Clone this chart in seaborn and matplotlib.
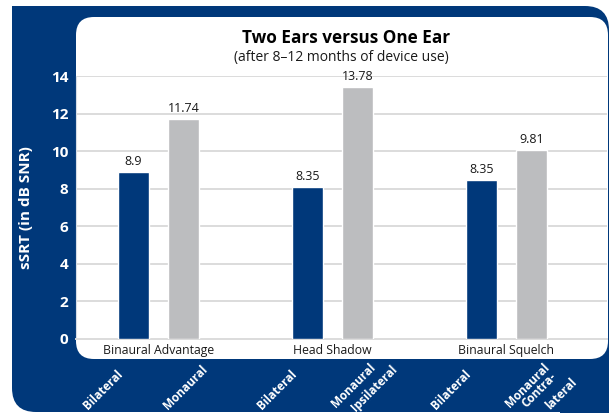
import matplotlib
matplotlib.use("Agg")
import matplotlib.pyplot as plt
import matplotlib.transforms as mtransforms
from matplotlib.patches import FancyBboxPatch, Rectangle
import seaborn as sns
import pandas as pd

# ---- data ----
groups = ["Binaural Advantage", "Head Shadow", "Binaural Squelch"]
conditions = ["Bilateral", "Monaural"]
bilateral_heights = [8.89, 8.09, 8.46]
monaural_heights = [11.71, 13.41, 10.05]
bilateral_labels = ["8.9", "8.35", "8.35"]
monaural_labels = ["11.74", "13.78", "9.81"]
condition_ticklabels = ["Bilateral", "Monaural", "Bilateral", "Monaural\nIpsilateral",
                        "Bilateral", "Monaural\nContra-\nlateral"]
y_ticks = [0, 2, 4, 6, 8, 10, 12, 14]
title = "Two Ears versus One Ear"
subtitle = "(after 8\u201312 months of device use)"
y_label = "sSRT (in dB SNR)"

NAVY = "#00387A"
GRAY = "#BCBDBF"
GRID = "#DCDCDC"

df = pd.DataFrame({
    "group": groups * 2,
    "condition": [conditions[0]] * 3 + [conditions[1]] * 3,
    "value": bilateral_heights + monaural_heights,
})

sns.set_theme(style="white")
plt.rcParams["font.family"] = ["Open Sans", "DejaVu Sans"]

W, H = 609, 413
fig = plt.figure(figsize=(W / 100, H / 100), dpi=100)
fig.patch.set_facecolor("white")

# background panels in pixel coordinates
bg = fig.add_axes([0, 0, 1, 1], zorder=0)
bg.set_xlim(0, W)
bg.set_ylim(H, 0)
bg.axis("off")
bg.add_patch(FancyBboxPatch((12, 6), 597, 406, boxstyle="round,pad=0,rounding_size=24",
                            fc=NAVY, ec="none"))
bg.add_patch(Rectangle((12, 6), 60, 60, fc=NAVY, ec="none"))
bg.add_patch(Rectangle((560, 360), 49, 53, fc=NAVY, ec="none"))
bg.add_patch(FancyBboxPatch((76, 17), 532, 342, boxstyle="round,pad=0,rounding_size=18",
                            fc="white", ec="none"))

# plot axes
left_px, right_px, top_px, bottom_px = 76, 607, 76, 338.7
ax = fig.add_axes([left_px / W, (H - bottom_px) / H, (right_px - left_px) / W,
                   (bottom_px - top_px) / H], zorder=1)
ax.set_facecolor("none")

sns.barplot(data=df, x="group", y="value", hue="condition", order=groups,
            hue_order=conditions, palette=[NAVY, GRAY], width=0.58, gap=0.39,
            saturation=1, legend=False, ax=ax, zorder=3)

ax.set_ylim(0, 14)
ax.set_xlim(-0.474, 2.578)
ax.set_yticks(y_ticks)
ax.yaxis.grid(True, color=GRID, linewidth=1.4, zorder=0)
ax.set_axisbelow(True)
for s in ["top", "right"]:
    ax.spines[s].set_visible(False)
ax.spines["left"].set_color("#D6DCE6")
ax.spines["left"].set_linewidth(0.8)
ax.spines["bottom"].set_color(GRID)
ax.spines["bottom"].set_linewidth(1.4)

ax.tick_params(axis="y", length=0, pad=5.5, labelsize=11, labelcolor="white")
for t in ax.get_yticklabels():
    t.set_fontweight("bold")
ax.tick_params(axis="x", which="major", length=0, pad=3.5, labelsize=8.8,
               labelcolor="#1a1a1a")
minor = []
for i in range(3):
    minor += [i - 0.44, i, i + 0.45]
ax.set_xticks(minor, minor=True)
ax.tick_params(axis="x", which="minor", length=4, width=0.8, color=GRID, direction="out")

ax.set_xlabel("")
ax.set_ylabel(y_label, color="white", fontsize=11, fontweight="bold")
ax.yaxis.set_label_coords(-0.081, 0.5)

# value labels
ax.bar_label(ax.containers[0], labels=bilateral_labels, padding=3, fontsize=9, color="#1a1a1a")
ax.bar_label(ax.containers[1], labels=monaural_labels, padding=3, fontsize=9, color="#1a1a1a")

# titles
fig.text(346 / W, 1 - 38 / H, title, ha="center", va="center", fontsize=12.3,
         fontweight="bold", color="black")
fig.text(341 / W, 1 - 58 / H, subtitle, ha="center", va="center", fontsize=10,
         color="#1a1a1a")

# rotated condition labels under bars (each line placed on its own)
bars = sorted(ax.patches, key=lambda p: p.get_x())
centers = [p.get_x() + p.get_width() / 2 for p in bars]
line_offsets = [
    [(-30, 390)],
    [(2, 388)],
    [(-30, 390)],
    [(-4, 386), (17, 388)],
    [(-30, 390)],
    [(-4, 386), (8, 390), (30, 394)],
]
base = mtransforms.blended_transform_factory(ax.transData, fig.transFigure)
for c, lab, offs in zip(centers, condition_ticklabels, line_offsets):
    for line, (dx, cy) in zip(lab.split("\n"), offs):
        tr = base + mtransforms.ScaledTranslation(dx / 100, 0, fig.dpi_scale_trans)
        ax.text(c, 1 - cy / H, line, transform=tr, rotation=45, ha="center",
                va="center", fontsize=8.5, fontweight="bold", color="white",
                clip_on=False)

fig.savefig("out.png", dpi=100, facecolor="white")
